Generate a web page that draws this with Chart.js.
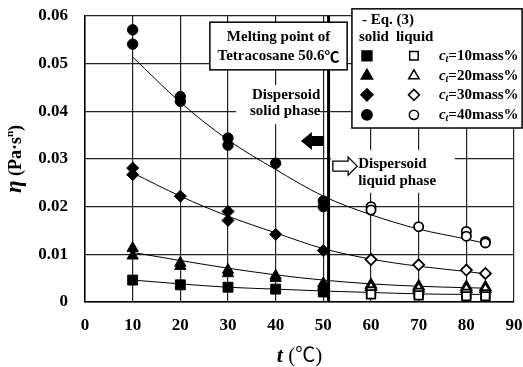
<!DOCTYPE html>
<html>
<head>
<meta charset="utf-8">
<script src="https://cdn.jsdelivr.net/npm/chart.js@4.4.0/dist/chart.umd.min.js"></script>
<style>
  html, body { margin: 0; padding: 0; background: #fff; }
</style>
</head>
<body>
<canvas id="chart" width="523" height="367"></canvas>
<script>
"use strict";

var SERIF = "'Liberation Serif', 'Times New Roman', 'Noto Sans CJK JP', serif";
var CJK = "'Noto Sans CJK JP', 'Liberation Serif', serif";

// axis ticks
var tTicks = [0, 10, 20, 30, 40, 50, 60, 70, 80, 90];
var etaTicks = [0, 0.01, 0.02, 0.03, 0.04, 0.05, 0.06];
var etaTickLabels = ['0', '0.01', '0.02', '0.03', '0.04', '0.05', '0.06'];

// ct = 10 mass%
var t10Solid = [10, 20, 30, 40, 50, 50];
var eta10Solid = [0.0046, 0.0036, 0.0031, 0.0027, 0.0025, 0.0021];
var t10Liquid = [60, 60, 70, 70, 80, 80, 84, 84];
var eta10Liquid = [0.0022, 0.0016, 0.0019, 0.0014, 0.0017, 0.0012, 0.0016, 0.0012];

// ct = 20 mass%
var t20Solid = [10, 10, 20, 20, 30, 30, 40, 40, 50, 50];
var eta20Solid = [0.0113, 0.0097, 0.0082, 0.0075, 0.0067, 0.0060, 0.0055, 0.0050, 0.0039, 0.0033];
var t20Liquid = [60, 60, 70, 70, 80, 80, 84, 84];
var eta20Liquid = [0.0036, 0.0031, 0.0033, 0.0028, 0.0032, 0.0027, 0.0031, 0.0027];

// ct = 30 mass%
var t30Solid = [10, 10, 20, 30, 30, 40, 50];
var eta30Solid = [0.0281, 0.0267, 0.0222, 0.0190, 0.0171, 0.0142, 0.0108];
var t30Liquid = [60, 70, 80, 84];
var eta30Liquid = [0.0089, 0.0078, 0.0067, 0.0060];

// ct = 40 mass%
var t40Solid = [10, 10, 20, 20, 30, 30, 40, 50, 50];
var eta40Solid = [0.0571, 0.0541, 0.0431, 0.0421, 0.0344, 0.0329, 0.0291, 0.0212, 0.0200];
var t40Liquid = [60, 60, 70, 80, 80, 84, 84];
var eta40Liquid = [0.0200, 0.0193, 0.0158, 0.0148, 0.0138, 0.0127, 0.0124];

// Eq. (3) curves
var tFit = [10, 20, 30, 40, 50, 60, 70, 80, 84];
var eta10Fit = [0.0046, 0.0038, 0.0031, 0.0027, 0.0023, 0.0020, 0.0017, 0.0016, 0.0016];
var eta20Fit = [0.0104, 0.0087, 0.0071, 0.0057, 0.0046, 0.0038, 0.0033, 0.0030, 0.0029];
var eta30Fit = [0.0271, 0.0222, 0.0180, 0.0145, 0.0112, 0.0090, 0.0075, 0.0064, 0.0059];
var eta40Fit = [0.0514, 0.0419, 0.0340, 0.0278, 0.0222, 0.0183, 0.0153, 0.0132, 0.0123];

var meltLineT = 51.1;
var legendLabels = ['10mass%', '20mass%', '30mass%', '40mass%'];
var markerStyles = [
    {pointStyle: 'rect', solidRadius: 7, hollowRadius: 6},
    {pointStyle: 'triangle', solidRadius: 6.5, hollowRadius: 6},
    {pointStyle: 'rectRot', solidRadius: 6, hollowRadius: 5.5},
    {pointStyle: 'circle', solidRadius: 5.2, hollowRadius: 4.6},
];

function zip(ts, etas) {
    return ts.map(function (t, i) { return {x: t, y: etas[i]}; });
}

var solidSets = [[t10Solid, eta10Solid], [t20Solid, eta20Solid], [t30Solid, eta30Solid], [t40Solid, eta40Solid]];
var liquidSets = [[t10Liquid, eta10Liquid], [t20Liquid, eta20Liquid], [t30Liquid, eta30Liquid], [t40Liquid, eta40Liquid]];
var fitSets = [eta10Fit, eta20Fit, eta30Fit, eta40Fit];

var datasets = [];
solidSets.forEach(function (s, i) {
    var m = markerStyles[i];
    datasets.push({
        data: zip(s[0], s[1]), order: 0,
        pointStyle: m.pointStyle, pointRadius: m.solidRadius,
        backgroundColor: '#000', borderColor: '#000', pointBorderWidth: 1,
    });
});
liquidSets.forEach(function (s, i) {
    var m = markerStyles[i];
    datasets.push({
        data: zip(s[0], s[1]), order: 0,
        pointStyle: m.pointStyle, pointRadius: m.hollowRadius,
        backgroundColor: '#fff', borderColor: '#000', pointBorderWidth: 1.8,
    });
});
fitSets.forEach(function (etas) {
    datasets.push({
        data: zip(tFit, etas), order: 1,
        showLine: true, pointRadius: 0, borderColor: '#000', borderWidth: 1,
        cubicInterpolationMode: 'monotone',
    });
});

// draws a run of differently styled pieces, returns its width
function richText(ctx, parts, x, y, measureOnly) {
    var w = 0;
    parts.forEach(function (p) {
        ctx.font = p.font;
        if (!measureOnly) {
            ctx.fillText(p.text, x + w, y + (p.dy || 0));
        }
        w += ctx.measureText(p.text).width;
    });
    return w;
}

function whiteBox(ctx, x1, y1, x2, y2, border) {
    ctx.fillStyle = '#fff';
    ctx.fillRect(x1, y1, x2 - x1, y2 - y1);
    if (border) {
        ctx.strokeStyle = '#000';
        ctx.lineWidth = 1.5;
        ctx.strokeRect(x1, y1, x2 - x1, y2 - y1);
    }
}

var annotations = {
    id: 'annotations',
    afterDatasetsDraw: function (chart) {
        var ctx = chart.ctx;
        var area = chart.chartArea;
        var xs = chart.scales.x, ys = chart.scales.y;
        var X = function (t) { return xs.getPixelForValue(t); };
        var Y = function (v) { return ys.getPixelForValue(v); };
        var bold15 = 'bold 15px ' + SERIF;

        ctx.save();
        // melting point line
        ctx.strokeStyle = '#000';
        ctx.lineWidth = 3;
        ctx.beginPath();
        ctx.moveTo(X(meltLineT), area.top);
        ctx.lineTo(X(meltLineT), area.bottom);
        ctx.stroke();

        ctx.fillStyle = '#000';
        ctx.textBaseline = 'middle';

        // melting point box
        whiteBox(ctx, X(26.2), Y(0.0587), X(55.0), Y(0.0487), true);
        ctx.fillStyle = '#000';
        ctx.textAlign = 'center';
        ctx.font = bold15;
        ctx.fillText('Melting point of', X(40.6), Y(0.0556));
        var meltParts = [
            {text: 'Tetracosane 50.6', font: bold15},
            {text: '\u2103', font: 'bold 15px ' + CJK},
        ];
        ctx.textAlign = 'left';
        var mw = richText(ctx, meltParts, 0, 0, true);
        richText(ctx, meltParts, X(40.6) - mw / 2, Y(0.0516), false);

        // solid phase label and arrow
        whiteBox(ctx, X(31.7), Y(0.0455), X(49.3), Y(0.0373), false);
        ctx.fillStyle = '#000';
        ctx.textAlign = 'center';
        ctx.font = bold15;
        ctx.fillText('Dispersoid', X(42.2), Y(0.0433));
        ctx.fillText('solid phase', X(42.0), Y(0.0400));

        var ay = Y(0.0338);
        ctx.beginPath();
        ctx.moveTo(X(45.3), ay);
        ctx.lineTo(X(47.6), ay - 9);
        ctx.lineTo(X(47.6), ay - 5);
        ctx.lineTo(X(50.1), ay - 5);
        ctx.lineTo(X(50.1), ay + 5);
        ctx.lineTo(X(47.6), ay + 5);
        ctx.lineTo(X(47.6), ay + 9);
        ctx.closePath();
        ctx.fill();

        // liquid phase label and arrow
        whiteBox(ctx, X(51.6), Y(0.0319), X(77.6), Y(0.0229), false);
        ctx.fillStyle = '#000';
        ctx.textAlign = 'left';
        ctx.fillText('Dispersoid', X(57.3), Y(0.0289));
        ctx.fillText('liquid phase', X(57.3), Y(0.0254));

        var by = Y(0.0285);
        ctx.beginPath();
        ctx.moveTo(X(57.1), by);
        ctx.lineTo(X(55.2), by - 9);
        ctx.lineTo(X(55.2), by - 5);
        ctx.lineTo(X(52.0), by - 5);
        ctx.lineTo(X(52.0), by + 5);
        ctx.lineTo(X(55.2), by + 5);
        ctx.lineTo(X(55.2), by + 9);
        ctx.closePath();
        ctx.fillStyle = '#fff';
        ctx.fill();
        ctx.strokeStyle = '#000';
        ctx.lineWidth = 1.3;
        ctx.stroke();

        // legend
        var lx = X(56.0), ly = Y(0.0615);
        whiteBox(ctx, lx, ly, X(91.7), Y(0.0365), true);
        ctx.fillStyle = '#000';
        ctx.font = bold15;
        ctx.fillText('- Eq. (3)', lx + 10, ly + 11);
        ctx.fillText('solid', lx + 7, ly + 28);
        ctx.fillText('liquid', lx + 44, ly + 28);
        var rowY = [47, 67, 86, 106];
        markerStyles.forEach(function (m, i) {
            var y = ly + rowY[i];
            ctx.fillStyle = '#000';
            ctx.strokeStyle = '#000';
            Chart.helpers.drawPoint(ctx, {pointStyle: m.pointStyle, radius: m.solidRadius, rotation: 0, borderWidth: 1}, lx + 15, y);
            ctx.fillStyle = '#fff';
            Chart.helpers.drawPoint(ctx, {pointStyle: m.pointStyle, radius: m.hollowRadius, rotation: 0, borderWidth: 1.8}, lx + 62, y);
            ctx.fillStyle = '#000';
            richText(ctx, [
                {text: 'c', font: 'italic bold 15px ' + SERIF},
                {text: 't', font: 'italic bold 10px ' + SERIF, dy: 4},
                {text: '=' + legendLabels[i], font: bold15},
            ], lx + 87, y, false);
        });
        ctx.restore();
    },
    afterDraw: function (chart) {
        var ctx = chart.ctx;
        var area = chart.chartArea;
        ctx.save();
        ctx.fillStyle = '#000';
        ctx.textAlign = 'left';
        ctx.textBaseline = 'alphabetic';

        // x axis title
        var xParts = [
            {text: 't', font: 'italic bold 22px ' + SERIF},
            {text: ' (', font: '21px ' + SERIF},
            {text: '\u2103', font: '20px ' + CJK},
            {text: ')', font: '21px ' + SERIF},
        ];
        var xw = richText(ctx, xParts, 0, 0, true);
        richText(ctx, xParts, (area.left + area.right) / 2 - xw / 2, 362, false);

        // y axis title
        var yParts = [
            {text: '\u03b7', font: 'italic bold 23px ' + SERIF},
            {text: ' (Pa\u00b7s', font: 'bold 18px ' + SERIF},
            {text: 'n', font: 'bold 11px ' + SERIF, dy: -8},
            {text: ')', font: 'bold 18px ' + SERIF},
        ];
        var yw = richText(ctx, yParts, 0, 0, true);
        ctx.translate(21, (area.top + area.bottom) / 2);
        ctx.rotate(-Math.PI / 2);
        richText(ctx, yParts, -yw / 2, 0, false);
        ctx.restore();
    },
};

// keep the plot box where the figure has it: no extra room for tick overhang
function noScalePadding(scale) {
    scale.paddingTop = 0;
    scale.paddingBottom = 0;
    scale.paddingLeft = 0;
    scale.paddingRight = 0;
}

var tickFont = {family: SERIF, size: 17, weight: 'bold'};

new Chart(document.getElementById('chart'), {
    type: 'scatter',
    data: {datasets: datasets},
    options: {
        responsive: false,
        animation: false,
        layout: {padding: {top: 16, right: 9, left: 0, bottom: 0}},
        plugins: {legend: {display: false}, tooltip: {enabled: false}},
        scales: {
            x: {
                type: 'linear', min: 0, max: 90,
                afterBuildTicks: function (scale) {
                    scale.ticks = tTicks.map(function (v) { return {value: v}; });
                },
                afterFit: function (scale) { scale.height = 65; noScalePadding(scale); },
                grid: {color: '#222', lineWidth: 1.2, drawTicks: false},
                border: {color: '#000', width: 1.5},
                ticks: {padding: 13, font: tickFont, color: '#000', maxRotation: 0},
            },
            y: {
                type: 'linear', min: 0, max: 0.06,
                afterBuildTicks: function (scale) {
                    scale.ticks = etaTicks.map(function (v) { return {value: v}; });
                },
                afterFit: function (scale) { scale.width = 85; noScalePadding(scale); },
                grid: {color: '#222', lineWidth: 1.2, drawTicks: false},
                border: {color: '#000', width: 1.5},
                ticks: {
                    padding: 17, font: tickFont, color: '#000',
                    callback: function (value, index) { return etaTickLabels[index]; },
                },
            },
        },
    },
    plugins: [annotations],
});
</script>
</body>
</html>
